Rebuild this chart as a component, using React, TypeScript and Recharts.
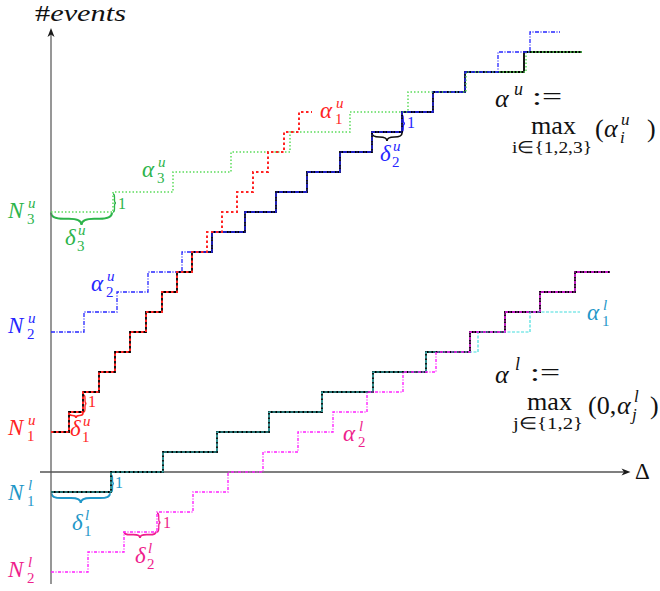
import React from "react";
import { ComposedChart, Line, XAxis, YAxis, ReferenceLine, ReferenceDot, ReferenceArea } from "recharts";

// step curves: breakpoints along Δ (last one is where the line stops) and the level held after each breakpoint
const red1uX = [0, 1.8, 3.2, 4.8, 6.4, 7.9, 9.5, 11.1, 12.6, 14.1, 15.6, 17.1, 18.6, 20.2, 21.7, 23.3, 24.8, 26.1];
const red1uY = [2, 3, 4, 5, 6, 7, 8, 9, 10, 11, 12, 13, 14, 15, 16, 17, 18];

const blue2uX = [0, 3.3, 6.6, 9.7, 13.1, 16.1, 19.4, 22.5, 25.6, 28.9, 32.1, 35.1, 38.2, 41.4, 44.7, 47.9, 50.9];
const blue2uY = [7, 8, 9, 10, 11, 12, 13, 14, 15, 16, 17, 18, 19, 20, 21, 22];

const green3uX = [0, 6.2, 12.2, 18.0, 23.9, 29.9, 35.7, 41.5, 47.5, 53.1];
const green3uY = [13, 14, 15, 16, 17, 18, 19, 20, 21];

const blackUX = [0, 1.8, 3.2, 4.8, 6.4, 7.9, 9.5, 11.1, 12.6, 14.1, 16.1, 19.4, 22.5, 25.6, 28.9, 32.1, 35.1, 38.2, 41.4, 47.3, 53.1];
const blackUY = [2, 3, 4, 5, 6, 7, 8, 9, 10, 11, 12, 13, 14, 15, 16, 17, 18, 19, 20, 21];

const cyan1lX = [0, 6.0, 11.2, 16.6, 21.8, 27.1, 32.2, 37.5, 42.7, 47.9, 52.9];
const cyan1lY = [-1, 0, 1, 2, 3, 4, 5, 6, 7, 8];

const pink2lX = [0, 3.7, 7.3, 10.6, 14.2, 17.7, 21.2, 24.7, 28.2, 31.6, 35.2, 38.5, 41.9, 45.4, 48.9, 52.4, 55.9];
const pink2lY = [-5, -4, -3, -2, -1, 0, 1, 2, 3, 4, 5, 6, 7, 8, 9, 10];

const blackLX = [0, 6.0, 11.2, 16.6, 21.8, 27.1, 32.2, 37.5, 41.9, 45.4, 48.9, 52.4, 55.9];
const blackLY = [-1, 0, 1, 2, 3, 4, 5, 6, 7, 8, 9, 10];

const SERIF = "Liberation Serif";

const RED = "#ff2424";
const BLUE = "#2626ff";
const GREEN_T = "#2db44b";
const GREEN_L = "#5bdc5b";
const TEAL_T = "#1f97c8";
const CYAN_L = "#44dede";
const PINK_T = "#ee1e8c";
const MAG_L = "#ff22ff";

const toSteps = (xs: number[], ys: number[]) =>
  xs.map((x, i) => ({ x, y: ys[Math.min(i, ys.length - 1)] }));

type Piece = { t: string; dx: number; dy: number; size: number; it?: boolean; len?: number };

// glyph -> where its scripts start (px)
const scriptOff: Record<string, number> = { N: 19, "α": 15, "δ": 12 };

const sym = (main: string, sup: string, sub: string): Piece[] => {
  const o = scriptOff[main];
  return [
    { t: main, dx: 0, dy: 0, size: 23, it: true },
    { t: sup, dx: o + 1, dy: -10, size: 15, it: true },
    { t: sub, dx: o, dy: 6, size: 15 },
  ];
};

const one: Piece[] = [{ t: "1", dx: 0, dy: 0, size: 16 }];

type Label = { x: number; y: number; color: string; pieces: Piece[] };

// labels anchored at baseline-left, in chart units
const labels: Label[] = [
  { x: -4.3, y: 12.7, color: GREEN_T, pieces: sym("N", "u", "3") },
  { x: -4.3, y: 6.95, color: BLUE, pieces: sym("N", "u", "2") },
  { x: -4.3, y: 1.85, color: RED, pieces: sym("N", "u", "1") },
  { x: -4.3, y: -1.4, color: TEAL_T, pieces: sym("N", "l", "1") },
  { x: -4.3, y: -5.25, color: PINK_T, pieces: sym("N", "l", "2") },
  { x: 9.1, y: 14.75, color: GREEN_T, pieces: sym("α", "u", "3") },
  { x: 4.0, y: 9.05, color: BLUE, pieces: sym("α", "u", "2") },
  { x: 26.9, y: 17.7, color: RED, pieces: sym("α", "u", "1") },
  { x: 53.6, y: 7.6, color: TEAL_T, pieces: sym("α", "l", "1") },
  { x: 29.2, y: 1.55, color: PINK_T, pieces: sym("α", "l", "2") },
  { x: 1.4, y: 11.35, color: GREEN_T, pieces: sym("δ", "u", "3") },
  { x: 32.9, y: 15.55, color: BLUE, pieces: sym("δ", "u", "2") },
  { x: 1.9, y: 1.8, color: RED, pieces: sym("δ", "u", "1") },
  { x: 2.1, y: -2.9, color: TEAL_T, pieces: sym("δ", "l", "1") },
  { x: 8.4, y: -4.55, color: PINK_T, pieces: sym("δ", "l", "2") },
  { x: 6.7, y: 13.15, color: GREEN_T, pieces: one },
  { x: 35.6, y: 17.2, color: BLUE, pieces: one },
  { x: 3.7, y: 3.25, color: RED, pieces: one },
  { x: 6.4, y: -0.8, color: TEAL_T, pieces: one },
  { x: 11.2, y: -2.8, color: PINK_T, pieces: one },
  // formulas
  {
    x: 44.4, y: 18.25, color: "#111",
    pieces: [
      { t: "α", dx: 0, dy: 0, size: 26, it: true },
      { t: "u", dx: 19, dy: -12, size: 18, it: true },
      { t: ":=", dx: 37, dy: -2, size: 26, len: 30 },
      { t: "max", dx: 36, dy: 27, size: 26, len: 45 },
      { t: "i∈{1,2,3}", dx: 17, dy: 46, size: 17, len: 80 },
      { t: "(", dx: 100, dy: 30, size: 26 },
      { t: "α", dx: 109, dy: 30, size: 26, it: true },
      { t: "u", dx: 126, dy: 18, size: 17, it: true },
      { t: "i", dx: 125, dy: 36, size: 17, it: true },
      { t: ")", dx: 152, dy: 30, size: 26 },
    ],
  },
  {
    x: 44.4, y: 4.45, color: "#111",
    pieces: [
      { t: "α", dx: 0, dy: 0, size: 26, it: true },
      { t: "l", dx: 20, dy: -13, size: 18, it: true },
      { t: ":=", dx: 35, dy: -2, size: 26, len: 30 },
      { t: "max", dx: 32, dy: 27, size: 26, len: 45 },
      { t: "j∈{1,2}", dx: 18, dy: 46, size: 17, len: 70 },
      { t: "(0,", dx: 93, dy: 31, size: 26 },
      { t: "α", dx: 122, dy: 31, size: 26, it: true },
      { t: "l", dx: 139, dy: 19, size: 17, it: true },
      { t: "j", dx: 137, dy: 37, size: 17, it: true },
      { t: ")", dx: 155, dy: 31, size: 26 },
    ],
  },
];

// braces: horizontal ones open upward under a step, vertical ones mark one step of height
const braces: { x1: number; x2: number; y1: number; y2: number; dir: "down" | "right"; color: string; w: number }[] = [
  { x1: 0, x2: 6.1, y1: 12.98, y2: 12.35, dir: "down", color: GREEN_T, w: 2 },
  { x1: 32.1, x2: 35.1, y1: 16.95, y2: 16.55, dir: "down", color: "#111", w: 1.6 },
  { x1: 1.8, x2: 3.2, y1: 2.95, y2: 2.7, dir: "down", color: RED, w: 1.6 },
  { x1: 0.05, x2: 5.9, y1: -1.06, y2: -1.55, dir: "down", color: TEAL_T, w: 2 },
  { x1: 7.3, x2: 10.5, y1: -2.97, y2: -3.3, dir: "down", color: PINK_T, w: 1.8 },
  { x1: 6.2, x2: 6.5, y1: 13.0, y2: 13.9, dir: "right", color: GREEN_T, w: 1.3 },
  { x1: 35.05, x2: 35.4, y1: 17.0, y2: 17.85, dir: "right", color: BLUE, w: 1.3 },
  { x1: 3.25, x2: 3.55, y1: 3.0, y2: 3.85, dir: "right", color: RED, w: 1.3 },
  { x1: 6.0, x2: 6.3, y1: -1.0, y2: -0.15, dir: "right", color: TEAL_T, w: 1.3 },
  { x1: 10.6, x2: 10.95, y1: -3.0, y2: -2.05, dir: "right", color: PINK_T, w: 1.3 },
];

const Rich = ({ cx, cy, color, pieces }: any) => (
  <g>
    {pieces.map((p: Piece, i: number) => (
      <text
        key={i}
        x={cx + p.dx}
        y={cy + p.dy}
        fill={color}
        fontFamily={SERIF}
        fontSize={p.size}
        fontStyle={p.it ? "italic" : "normal"}
        textLength={p.len}
        lengthAdjust={p.len ? "spacingAndGlyphs" : undefined}
      >
        {p.t}
      </text>
    ))}
  </g>
);

const bracePath = (x: number, y: number, w: number, h: number, dir: string) => {
  if (dir === "down") {
    const m = x + w / 2;
    const r = Math.min(h, w / 4);
    const c = y + h / 2;
    return `M${x},${y} Q${x},${c} ${x + r},${c} L${m - r},${c} Q${m},${c} ${m},${y + h} Q${m},${c} ${m + r},${c} L${x + w - r},${c} Q${x + w},${c} ${x + w},${y}`;
  }
  const m = y + h / 2;
  const r = Math.min(w, h / 4);
  const c = x + w / 2;
  return `M${x},${y} Q${c},${y} ${c},${y + r} L${c},${m - r} Q${c},${m} ${x + w},${m} Q${c},${m} ${c},${m + r} L${c},${y + h - r} Q${c},${y + h} ${x},${y + h}`;
};

const Arrow = ({ cx, cy, up }: any) => {
  const d = up
    ? `M${cx},${cy} L${cx - 3.5},${cy + 9} L${cx},${cy + 6.5} L${cx + 3.5},${cy + 9} Z`
    : `M${cx},${cy} L${cx - 9},${cy - 3.5} L${cx - 6.5},${cy} L${cx - 9},${cy + 3.5} Z`;
  return <path d={d} fill="#1a1a1a" />;
};

export default function App() {
  const curves = [
    { key: "blackU", data: toSteps(blackUX, blackUY), stroke: "#000", w: 1.8, dash: undefined },
    { key: "blackL", data: toSteps(blackLX, blackLY), stroke: "#000", w: 1.8, dash: undefined },
    { key: "green3u", data: toSteps(green3uX, green3uY), stroke: GREEN_L, w: 1.5, dash: "1.5 2" },
    { key: "blue2u", data: toSteps(blue2uX, blue2uY), stroke: BLUE, w: 1.3, dash: "4 1.5 1 1.5" },
    { key: "red1u", data: toSteps(red1uX, red1uY), stroke: RED, w: 2, dash: "2.5 2.5" },
    { key: "cyan1l", data: toSteps(cyan1lX, cyan1lY), stroke: CYAN_L, w: 1.2, dash: "3 1.5" },
    { key: "pink2l", data: toSteps(pink2lX, pink2lY), stroke: MAG_L, w: 1.4, dash: "3 1.5 1 1.5" },
  ];

  return (
    <div style={{ position: "absolute", left: 0, top: 0, width: 660, height: 591, background: "#fff" }}>
      <ComposedChart width={660} height={591} margin={{ top: 12, right: 9, bottom: 0, left: 11 }}>
        <XAxis type="number" dataKey="x" domain={[-4, 60]} allowDataOverflow hide />
        <YAxis type="number" dataKey="y" domain={[-5.95, 23]} allowDataOverflow hide />

        <ReferenceLine segment={[{ x: 0, y: -5.6 }, { x: 0, y: 21.9 }]} stroke="#6b6b6b" strokeWidth={1.4} ifOverflow="visible" />
        <ReferenceLine segment={[{ x: -1.1, y: 0 }, { x: 57.6, y: 0 }]} stroke="#555" strokeWidth={1.3} ifOverflow="visible" />
        <ReferenceDot x={0} y={22.2} r={1} ifOverflow="visible" shape={(p: any) => <Arrow cx={p.cx} cy={p.cy} up />} />
        <ReferenceDot x={57.95} y={0} r={1} ifOverflow="visible" shape={(p: any) => <Arrow cx={p.cx} cy={p.cy} />} />

        {curves.map((c) => (
          <Line
            key={c.key}
            data={c.data}
            dataKey="y"
            type="stepAfter"
            stroke={c.stroke}
            strokeWidth={c.w}
            strokeDasharray={c.dash}
            dot={false}
            activeDot={false}
            isAnimationActive={false}
          />
        ))}

        {braces.map((b, i) => (
          <ReferenceArea
            key={"b" + i}
            x1={b.x1}
            x2={b.x2}
            y1={b.y1}
            y2={b.y2}
            ifOverflow="visible"
            shape={(p: any) => (
              <path d={bracePath(p.x, p.y, p.width, p.height, b.dir)} fill="none" stroke={b.color} strokeWidth={b.w} />
            )}
          />
        ))}

        {labels.map((l, i) => (
          <ReferenceDot
            key={"l" + i}
            x={l.x}
            y={l.y}
            r={1}
            ifOverflow="visible"
            shape={(p: any) => <Rich cx={p.cx} cy={p.cy} color={l.color} pieces={l.pieces} />}
          />
        ))}

        <ReferenceDot
          x={-1.6}
          y={22.55}
          r={1}
          ifOverflow="visible"
          shape={(p: any) => (
            <text x={p.cx} y={p.cy} fill="#111" fontFamily={SERIF} fontSize={24} textLength={91} lengthAdjust="spacingAndGlyphs">
              #<tspan fontStyle="italic">events</tspan>
            </text>
          )}
        />
        <ReferenceDot
          x={58.4}
          y={-0.35}
          r={1}
          ifOverflow="visible"
          shape={(p: any) => (
            <text x={p.cx} y={p.cy} fill="#111" fontFamily={SERIF} fontSize={23}>
              Δ
            </text>
          )}
        />
      </ComposedChart>
    </div>
  );
}
